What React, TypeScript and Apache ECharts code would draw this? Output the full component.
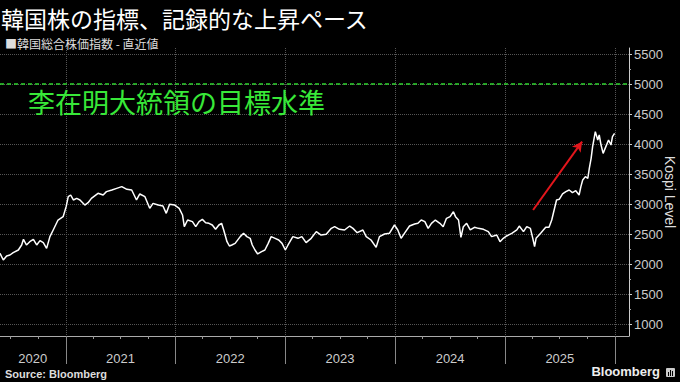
import React, { useEffect, useRef } from "react";
import * as echarts from "echarts";

const dates = [
  "2020-05-27","2020-06-07","2020-06-18","2020-06-29","2020-07-10","2020-07-27","2020-08-07","2020-08-13","2020-08-23","2020-09-03",
  "2020-09-15","2020-09-26","2020-10-07","2020-10-18","2020-10-29","2020-11-09","2020-11-20","2020-12-06","2020-12-23","2021-01-02",
  "2021-01-09","2021-01-17","2021-01-26","2021-02-06","2021-02-17","2021-03-05","2021-03-16","2021-03-27","2021-04-18","2021-05-05",
  "2021-05-16","2021-06-03","2021-06-19","2021-07-06","2021-07-23","2021-08-08","2021-08-24","2021-09-04","2021-09-21","2021-10-07",
  "2021-10-18","2021-11-04","2021-11-20","2021-12-01","2021-12-12","2021-12-29","2022-01-13","2022-01-24","2022-01-30","2022-02-10",
  "2022-02-26","2022-03-09","2022-03-20","2022-03-31","2022-04-11","2022-04-22","2022-05-03","2022-05-14","2022-05-25","2022-06-03",
  "2022-06-10","2022-06-21","2022-06-29","2022-07-07","2022-07-18","2022-08-04","2022-08-15","2022-08-26","2022-09-06","2022-09-13",
  "2022-09-22","2022-10-01","2022-10-14","2022-10-25","2022-11-05","2022-11-15","2022-11-28","2022-12-10","2022-12-21","2023-01-01",
  "2023-01-10","2023-01-26","2023-02-12","2023-02-25","2023-03-11","2023-03-28","2023-04-14","2023-04-30","2023-05-17","2023-06-03",
  "2023-06-14","2023-06-30","2023-07-17","2023-08-03","2023-08-14","2023-08-28","2023-09-16","2023-09-27","2023-10-13","2023-10-30",
  "2023-11-10","2023-11-27","2023-12-13","2023-12-30","2024-01-10","2024-01-21","2024-02-01","2024-02-18","2024-03-06","2024-03-17",
  "2024-03-28","2024-04-09","2024-04-20","2024-05-01","2024-05-14","2024-05-29","2024-06-09","2024-06-20","2024-07-02","2024-07-13",
  "2024-07-20","2024-07-30","2024-08-07","2024-08-15","2024-08-26","2024-09-07","2024-09-21","2024-10-04","2024-10-21","2024-11-06",
  "2024-11-17","2024-12-04","2024-12-15","2024-12-26","2025-01-06","2025-01-23","2025-02-09","2025-02-17","2025-03-03","2025-03-14",
  "2025-03-26","2025-04-03","2025-04-09","2025-04-14","2025-04-29","2025-05-16","2025-05-27","2025-06-05","2025-06-13","2025-06-21",
  "2025-06-30","2025-07-11","2025-07-22","2025-08-02","2025-08-13","2025-08-24","2025-09-04","2025-09-10","2025-09-16","2025-09-25",
  "2025-10-03","2025-10-08","2025-10-14","2025-10-19","2025-10-28","2025-11-05","2025-11-10","2025-11-16","2025-11-23","2025-12-02",
  "2025-12-11","2025-12-19","2025-12-24","2025-12-31"
];

const kospi = [
  2178,2067,2133,2150,2189,2233,2317,2411,2317,2372,
  2411,2317,2389,2356,2261,2456,2567,2733,2789,2956,
  3122,3150,3067,3094,3067,2983,3022,3094,3178,3150,
  3206,3233,3261,3289,3244,3233,3067,3167,3122,2928,
  3011,2983,2967,2844,2994,2983,2928,2817,2622,2733,
  2706,2622,2706,2744,2689,2678,2650,2578,2650,2678,
  2567,2372,2300,2317,2344,2456,2511,2456,2428,2317,
  2233,2167,2206,2233,2344,2456,2428,2400,2344,2233,
  2317,2456,2428,2456,2356,2428,2539,2483,2494,2594,
  2622,2578,2567,2633,2594,2522,2567,2456,2400,2278,
  2456,2500,2511,2650,2567,2428,2511,2633,2667,2678,
  2733,2706,2594,2678,2733,2678,2622,2761,2789,2872,
  2789,2733,2444,2622,2678,2567,2611,2594,2578,2539,
  2456,2483,2372,2428,2467,2511,2567,2633,2539,2622,
  2594,2428,2289,2428,2511,2611,2611,2733,2900,3067,
  3078,3167,3206,3233,3189,3222,3150,3289,3400,3456,
  3428,3594,3761,3956,4206,4067,4150,3983,3844,3956,
  4067,3983,4122,4178
];

const xMin = "2020-05-27";
const xMax = "2026-02-17";
const yearBoundaries = ["2021-01-01","2022-01-01","2023-01-01","2024-01-01","2025-01-01","2026-01-01"];
const yearLabelDates = ["2020-09-13","2021-07-02","2022-07-02","2023-07-02","2024-07-02","2025-07-02"];
const quarterTicks = [
  "2020-07-01","2020-10-01",
  "2021-04-01","2021-07-01","2021-10-01",
  "2022-04-01","2022-07-01","2022-10-01",
  "2023-04-01","2023-07-01","2023-10-01",
  "2024-04-01","2024-07-01","2024-10-01",
  "2025-04-01","2025-07-01","2025-10-01"
];
const yMin = 800;
const yMax = 5600;
const yTicks = [1000,1500,2000,2500,3000,3500,4000,4500,5000,5500];
const yMinorTicks = [1250,1750,2250,2750,3250,3750,4250,4750,5250];
const targetLevel = 5000;
const arrowFrom: [string, number] = ["2025-04-04", 2900];
const arrowTo: [string, number] = ["2025-09-14", 4040];

const titleText = "韓国株の指標、記録的な上昇ペース";
const subtitleText = "■韓国総合株価指数 - 直近値";
const targetText = "李在明大統領の目標水準";
const axisName = "Kospi Level";
const sourceText = "Source: Bloomberg";
const brandText = "Bloomberg";

const ts = (d: string) => new Date(d + "T00:00:00Z").getTime();

export default function App() {
  const ref = useRef<HTMLDivElement>(null);
  useEffect(() => {
    if (!ref.current) return;
    const chart = echarts.init(ref.current, null, { renderer: "svg" });
    const cjk = '"Noto Sans CJK JP", "Noto Sans", sans-serif';
    const latin = '"Liberation Sans", Arial, sans-serif';
    chart.setOption({
      animation: false,
      backgroundColor: "#000",
      title: [
        {
          text: titleText, left: 1, top: 6, padding: 0,
          textStyle: { color: "#fff", fontSize: 23, fontWeight: "normal", fontFamily: cjk },
        },
        {
          text: subtitleText, left: 5, top: 37, padding: 0,
          textStyle: { color: "#ddd", fontSize: 12, fontWeight: "normal", fontFamily: cjk },
        },
        {
          text: targetText, left: 28, top: 88, padding: 0,
          textStyle: { color: "#38e838", fontSize: 27, fontWeight: "normal", fontFamily: cjk },
        },
      ],
      grid: { left: 0, right: 51, top: 48, bottom: 46, containLabel: false, outerBoundsMode: "none" },
      xAxis: [
        {
          type: "value",
          min: ts(xMin),
          max: ts(xMax),
          position: "bottom",
          axisLine: { show: true, lineStyle: { color: "#aaa", width: 1 } },
          axisTick: {
            show: true, inside: false, length: 28,
            customValues: yearBoundaries.map(ts),
            lineStyle: { color: "#888", width: 1 },
          },
          axisLabel: {
            show: true,
            customValues: yearLabelDates.map(ts),
            margin: 16,
            color: "#ccc",
            fontSize: 13,
            fontFamily: latin,
            showMinLabel: true,
            showMaxLabel: true,
            formatter: (v: number) => String(new Date(v).getUTCFullYear()),
          },
          splitLine: { show: true, lineStyle: { color: "#555", type: "dotted", width: 1 } },
        },
        {
          type: "value",
          min: ts(xMin),
          max: ts(xMax),
          position: "bottom",
          axisLine: { show: false },
          axisTick: {
            show: true, inside: false, length: 3,
            customValues: quarterTicks.map(ts),
            lineStyle: { color: "#999", width: 1 },
          },
          axisLabel: { show: false },
          splitLine: { show: false },
        },
      ],
      yAxis: [
        {
          type: "value",
          position: "right",
          min: yMin,
          max: yMax,
          axisLine: { show: true, lineStyle: { color: "#ccc", width: 1 } },
          axisTick: {
            show: true, inside: false, length: 3,
            customValues: yTicks,
            lineStyle: { color: "#ccc" },
          },
          axisLabel: {
            show: true, customValues: yTicks, margin: 5,
            color: "#ccc", fontSize: 13, fontFamily: latin,
            formatter: (v: number) => String(v),
          },
          splitLine: { show: true, lineStyle: { color: "#555", type: "dotted", width: 1 } },
          name: axisName,
          nameLocation: "middle",
          nameRotate: -90,
          nameGap: 34,
          nameMoveOverlap: false,
          nameTextStyle: { color: "#ddd", fontSize: 14, fontFamily: latin },
        },
        {
          type: "value",
          position: "right",
          min: yMin,
          max: yMax,
          axisLine: { show: false },
          axisTick: {
            show: true, inside: false, length: 2,
            customValues: yMinorTicks,
            lineStyle: { color: "#aaa" },
          },
          axisLabel: { show: false },
          splitLine: { show: false },
        },
      ],
      series: [
        {
          type: "line",
          xAxisIndex: 0,
          yAxisIndex: 0,
          data: dates.map((d, i) => [ts(d), kospi[i]]),
          showSymbol: false,
          symbol: "none",
          lineStyle: { color: "#fff", width: 1.5 },
          silent: true,
          markLine: {
            silent: true,
            symbol: ["none", "none"],
            label: { show: false },
            data: [
              {
                yAxis: targetLevel,
                lineStyle: { color: "#2fd42f", type: [4, 3], width: 1.5 },
                label: { show: false },
              },
              [
                {
                  coord: [ts(arrowFrom[0]), arrowFrom[1]],
                  symbol: "none",
                  lineStyle: { color: "#e3161c", type: "solid", width: 2 },
                  label: { show: false },
                },
                {
                  coord: [ts(arrowTo[0]), arrowTo[1]],
                  symbol: "arrow",
                  symbolSize: [8, 10],
                },
              ],
            ],
          },
        },
      ],
      graphic: [
        {
          type: "text",
          left: 5,
          top: 368,
          style: { text: sourceText, fill: "#ddd", font: `bold 11px ${latin}` },
        },
        {
          type: "text",
          right: 20,
          top: 365,
          style: { text: brandText, fill: "#eee", font: `bold 13px ${latin}` },
        },
        {
          type: "group",
          right: 5,
          top: 368,
          children: [
            { type: "rect", shape: { x: 0, y: 0, width: 9, height: 9, r: 1 }, style: { fill: "#ccc" } },
            { type: "rect", shape: { x: 2, y: 4, width: 1, height: 4 }, style: { fill: "#000" } },
            { type: "rect", shape: { x: 4, y: 2, width: 1, height: 6 }, style: { fill: "#000" } },
            { type: "rect", shape: { x: 6, y: 3, width: 1, height: 5 }, style: { fill: "#000" } },
          ],
        },
      ],
    });
    return () => chart.dispose();
  }, []);
  return (
    <div
      ref={ref}
      style={{ position: "fixed", left: 0, top: 0, width: 680, height: 382, background: "#000" }}
    />
  );
}
